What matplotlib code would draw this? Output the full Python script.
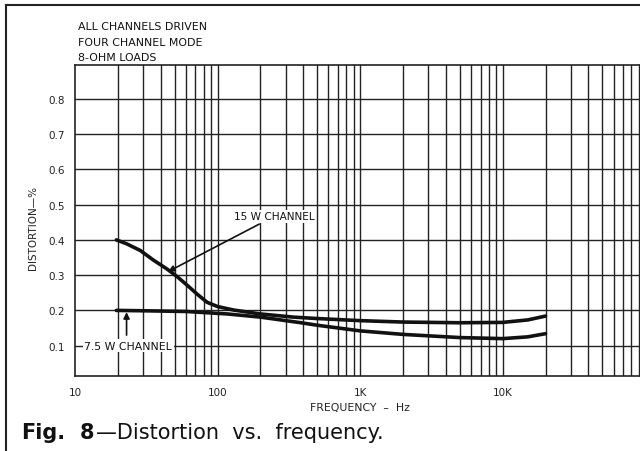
import numpy as np
import matplotlib
matplotlib.use("Agg")
import matplotlib.pyplot as plt
from matplotlib.lines import Line2D

plt.rcParams['font.family'] = ['DejaVu Sans']

# Data
freq_15w = [19.5, 23, 28.7, 35.4, 44, 52, 61, 72, 84.5, 100, 130, 200, 340, 500, 1000, 2000, 5000, 10000, 15000, 20000]
dist_15w = [0.40, 0.389, 0.37, 0.343, 0.318, 0.296, 0.272, 0.246, 0.223, 0.211, 0.201, 0.19, 0.181, 0.177, 0.171, 0.167, 0.165, 0.166, 0.173, 0.184]

freq_75w = [19.5, 30, 60, 117, 200, 385, 500, 1000, 2000, 5000, 10000, 15000, 20000]
dist_75w = [0.20, 0.199, 0.197, 0.19, 0.181, 0.165, 0.158, 0.142, 0.132, 0.123, 0.12, 0.125, 0.134]

ytick_vals = [0.1, 0.2, 0.3, 0.4, 0.5, 0.6, 0.7, 0.8]
ytick_labels = ["0.1", "0.2", "0.3", "0.4", "0.5", "0.6", "0.7", "0.8"]
xtick_vals = [10, 100, 1000, 10000]
xtick_labels = ["10", "100", "1K", "10K"]

W, H = 640, 452
fig = plt.figure(figsize=(6.4, 4.52), dpi=100)
ax = fig.add_axes([75 / W, 1 - 377 / H, (640 - 75) / W, (377 - 66) / H])
ax.set_xscale('log')
ax.set_xlim(10, 92000)
ax.set_ylim(0.014, 0.896)

gc = '#222222'
# grid: every integer multiple per decade
for dec in [10, 100, 1000, 10000]:
    for m in range(1, 10):
        f = dec * m
        if 10 < f < 92000:
            ax.axvline(f, color=gc, lw=1.0, zorder=1)
for yv in ytick_vals:
    ax.axhline(yv, color=gc, lw=1.0, zorder=1)

for s in ax.spines.values():
    s.set_color(gc)
    s.set_linewidth(1.2)

ax.set_xticks(xtick_vals)
ax.set_xticklabels(xtick_labels)
ax.xaxis.set_minor_locator(matplotlib.ticker.NullLocator())
ax.set_yticks(ytick_vals)
ax.set_yticklabels(ytick_labels)
ax.tick_params(axis='both', length=0, labelsize=7.5, colors='#222222')
ax.tick_params(axis='x', pad=8)
ax.tick_params(axis='y', pad=7)

ax.set_xlabel("FREQUENCY  \u2013  Hz", fontsize=7.8, color='#222222')
ax.xaxis.set_label_coords((360 - 75) / (640 - 75), -(408 - 377) / (377 - 66))
ax.xaxis.label.set_va('center')
ax.set_ylabel("DISTORTION\u2014%", fontsize=7.5, color='#222222')
ax.yaxis.set_label_coords(-(75 - 33) / (640 - 75), (377 - 228) / (377 - 66))
ax.yaxis.label.set_va('center')

ax.plot(freq_15w, dist_15w, color='#111111', lw=2.6, zorder=3, solid_capstyle='round', solid_joinstyle='round')
ax.plot(freq_75w, dist_75w, color='#111111', lw=2.6, zorder=3, solid_capstyle='round', solid_joinstyle='round')

# annotations
ax.annotate("15 W CHANNEL", xy=(45, 0.31), xytext=(250, 0.467),
            fontsize=7.6, ha='center', va='center', color='#111111', zorder=5,
            bbox=dict(boxstyle='square,pad=0.15', fc='white', ec='none'),
            arrowprops=dict(arrowstyle='-|>', color='#111111', lw=1.2,
                            mutation_scale=9, shrinkA=2, shrinkB=0))
ax.annotate("", xy=(23, 0.195), xytext=(23, 0.13),
            arrowprops=dict(arrowstyle='-|>', color='#111111', lw=1.2,
                            mutation_scale=9, shrinkA=0, shrinkB=0), zorder=5)
ax.text(11.6, 0.1, "7.5 W CHANNEL", fontsize=7.8, ha='left', va='center', color='#111111',
        zorder=5, bbox=dict(boxstyle='square,pad=0.15', fc='white', ec='none'))

# header text
for i, t in enumerate(["ALL CHANNELS DRIVEN", "FOUR CHANNEL MODE", "8-OHM LOADS"]):
    fig.text(78 / W, 1 - (27 + 15.5 * i) / H, t, fontsize=7.9, ha='left', va='center', color='#111111')

# caption
cy = 1 - 433 / H
fig.text(21 / W, cy, "Fig.", fontsize=15, fontweight='bold', ha='left', va='center', color='#111111')
fig.text(80 / W, cy, "8", fontsize=15, fontweight='bold', ha='left', va='center', color='#111111')
fig.text(96 / W, cy, "\u2014Distortion  vs.  frequency.", fontsize=15, ha='left', va='center', color='#111111')

# outer frame lines
fig.add_artist(Line2D([6 / W, 6 / W], [0, 1 - 6 / H], transform=fig.transFigure, color='#222222', lw=1.5))
fig.add_artist(Line2D([6 / W, 1], [1 - 6 / H, 1 - 6 / H], transform=fig.transFigure, color='#222222', lw=1.5))

fig.savefig("out.png", dpi=100, facecolor='white')
